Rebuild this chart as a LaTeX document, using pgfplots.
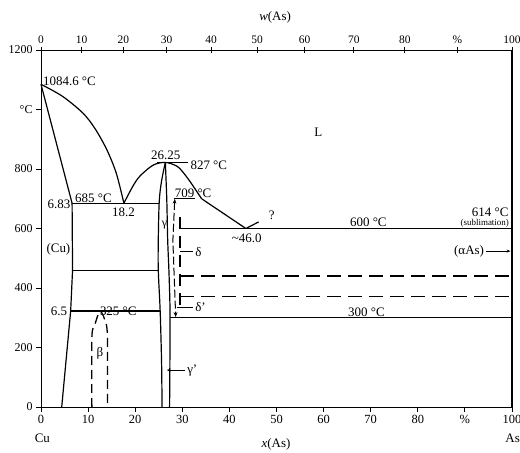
\documentclass[border=0pt]{standalone}
\usepackage{fontspec}
\setmainfont{Liberation Serif}
\usepackage{pgfplots}
\pgfplotsset{compat=1.18}
\usetikzlibrary{arrows.meta}
\begin{document}
\begin{tikzpicture}[lab/.style={font=\fontsize{13}{14}\selectfont}]
\begin{axis}[
 scale only axis, width=471bp, height=357bp,
 xmin=0,xmax=100,ymin=0,ymax=1200,
 clip=false,
 axis line style={line width=0.9bp},
 xtick={0,10,...,100},
 xticklabels={0,10,20,30,40,50,60,70,80,\%,100},
 ytick={0,200,...,1200},
 yticklabels={0,200,400,600,800,{°C},1200},
 xtick pos=bottom, ytick pos=left,
 tick align=outside,
 major tick length=5bp,
 every tick/.style={black,line width=0.9bp},
 x tick label style={font=\fontsize{12.5}{13}\selectfont},
 y tick label style={font=\fontsize{12}{13}\selectfont},
 /pgf/number format/assume math mode=true,
 cycle list={{black,solid,line width=1.2bp}},
 no markers,
]
% liquidus Cu side
\addplot[black,line width=1.2bp,smooth] coordinates {(0,1084.6)(4.5,1045)(8.9,988)(11.5,935)(14,864)(16,785)(17.6,685)};
% solidus (Cu)
\addplot[black,line width=1.2bp] coordinates {(0,1084.6)(6.6,685)};
% solvus (Cu)
\addplot[black,line width=1.2bp] coordinates {(6.6,685)(6.7,460)(6.3,323)(4.4,0)};
% horizontals
\addplot[black,line width=1.2bp] coordinates {(6.6,685)(25.05,685)};
\addplot[black,line width=1.2bp] coordinates {(6.7,460)(24.9,460)};
\addplot[black,line width=1.2bp] coordinates {(6.3,323)(25.3,323)};
% gamma liquidus
\addplot[black,line width=1.2bp,smooth] coordinates {(17.6,685)(19.5,742)(21,776)(23.8,813)(26.4,822)(29,808)(30.9,774)(32.5,738)(34.1,700)};
\addplot[black,line width=1.2bp] coordinates {(34.1,700)(43.5,600)(46.2,622)};
% gamma left
\addplot[black,line width=1.2bp,smooth] coordinates {(26.4,822)(25.6,760)(25.1,690)(24.9,560)(24.9,460)(25.3,323)(25.6,150)(25.7,0)};
% gamma right
\addplot[black,line width=1.2bp,smooth] coordinates {(26.4,822)(26.7,700)(26.9,560)(27.2,440)(27.4,300)(27.3,0)};
% 709 line
\addplot[black,line width=1.2bp] coordinates {(28.2,702)(32.7,702)};
% 827 line
\addplot[black,line width=0.9bp] coordinates {(24.6,822)(31.3,822)};
% arrow dashed
\addplot[black,line width=1bp, dash pattern=on 8bp off 3bp, {Stealth[length=5bp]}-{Stealth[length=5bp]}] coordinates {(28.4,700)(28.0,560)(28.6,302)};
% delta dashed vertical
\addplot[black,line width=1.2bp,dash pattern=on 12bp off 7bp] coordinates {(29.5,640)(29.5,340)};
% 600 line
\addplot[black,line width=1.2bp] coordinates {(29.6,600)(100,600)};
% dashed horizontals
\addplot[black,line width=1.5bp,dash pattern=on 14bp off 7bp] coordinates {(29.6,440)(100,440)};
\addplot[black,line width=1.5bp,dash pattern=on 14bp off 7bp] coordinates {(29.6,372)(100,372)};
% 300
\addplot[black,line width=1.2bp] coordinates {(27.4,300)(100,300)};
% right border
\addplot[black,line width=2.4bp] coordinates {(100,0)(100,1200)};
% beta dome
\addplot[black,line width=1.3bp,smooth, dash pattern=on 9bp off 5bp] coordinates {(10.8,0)(10.8,235)(11.5,280)(12.5,322)(13.5,295)(14.1,240)(14.1,0)};
% pointers
\addplot[black,line width=0.9bp] coordinates {(29.5,522)(32.3,522)};
\addplot[black,line width=0.9bp] coordinates {(28.8,335)(32.3,335)};
\addplot[black,line width=0.9bp, -{Stealth[length=4bp]}] coordinates {(30.6,124)(26.7,124)};
\addplot[black,line width=0.9bp, -{Stealth[length=4bp]}] coordinates {(94.5,524)(99.7,524)};
% labels
\node[lab,anchor=west,inner sep=1bp] at (axis cs:0.2,1094) {1084.6 °C};
\node[lab,anchor=east,inner sep=1bp] at (axis cs:6.5,682) {6.83};
\node[lab,anchor=west,inner sep=1bp] at (axis cs:7.0,700) {685 °C};
\node[lab] at (axis cs:17.5,656) {18.2};
\node[lab] at (axis cs:26.5,847) {26.25};
\node[lab,anchor=west,inner sep=1bp] at (axis cs:31.5,811) {827 °C};
\node[lab] at (axis cs:32.3,720) {709 °C};
\node[font=\fontsize{12}{13}\selectfont] at (axis cs:26.2,610) {γ};
\node[lab] at (axis cs:49,645) {?};
\node[lab] at (axis cs:43.7,567) {\textasciitilde46.0};
\node[lab] at (axis cs:69.5,620) {600 °C};
\node[lab,anchor=east,inner sep=1bp] at (axis cs:99.5,656) {614 °C};
\node[anchor=east,inner sep=1bp,font=\fontsize{9}{10}\selectfont] at (axis cs:99.6,618) {(sublimation)};
\node[lab,anchor=east,inner sep=1bp] at (axis cs:94.3,524) {(αAs)};
\node[lab,anchor=west,inner sep=1bp] at (axis cs:32.5,522) {δ};
\node[lab,anchor=west,inner sep=1bp] at (axis cs:32.5,335) {δ'};
\node[lab,anchor=west,inner sep=1bp] at (axis cs:30.8,124) {γ'};
\node[lab] at (axis cs:3.7,530) {(Cu)};
\node[lab] at (axis cs:12.5,181) {β};
\node[lab,anchor=east,inner sep=1bp] at (axis cs:5.8,320) {6.5};
\node[lab] at (axis cs:16.4,321) {325 °C};
\node[lab] at (axis cs:69.1,319) {300 °C};
\node[lab] at (axis cs:58.9,925) {L};
\node[lab] at (axis cs:0.3,-104) {Cu};
\node[lab,anchor=east,inner sep=0pt] at (axis cs:101.7,-104) {As};
\node[lab] at (axis cs:49.9,-125) {\textit{x}(As)};
\node[lab] at (axis cs:49.7,1311) {\textit{w}(As)};
\end{axis}
\begin{axis}[
 scale only axis, width=471bp, height=357bp,
 xmin=0,xmax=100,ymin=0,ymax=1200,
 axis x line*=top, hide y axis,
 x axis line style={-, line width=0.9bp},
 xtick={0,8.61,17.50,26.66,36.12,45.90,55.99,66.43,77.24,88.42,100},
 xticklabels={0,10,20,30,40,50,60,70,80,\%,100},
 tick align=center, major tick length=6bp,
 every tick/.style={black,line width=0.9bp},
 x tick label style={font=\fontsize{11.5}{12}\selectfont},
]
\addplot[draw=none] coordinates {(0,0)};
\end{axis}
\pgfresetboundingbox
\path[use as bounding box] (-41bp,-46bp) rectangle (479bp,407bp);
\end{tikzpicture}
\end{document}
